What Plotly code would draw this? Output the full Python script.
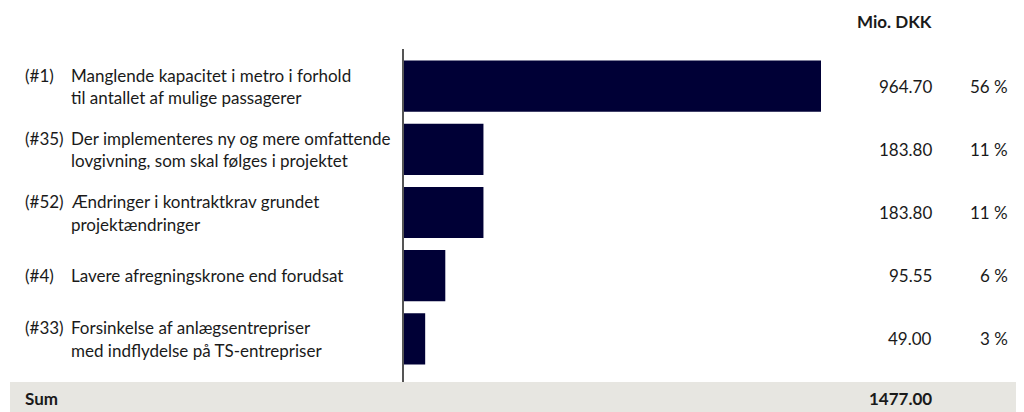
import plotly.graph_objects as go

# ---- data ----
codes = ["(#1)", "(#35)", "(#52)", "(#4)", "(#33)"]
descriptions = [
    ["Manglende kapacitet i metro i forhold", "til antallet af mulige passagerer"],
    ["Der implementeres ny og mere omfattende", "lovgivning, som skal følges i projektet"],
    ["Ændringer i kontraktkrav grundet", "projektændringer"],
    ["Lavere afregningskrone end forudsat"],
    ["Forsinkelse af anlægsentrepriser", "med indflydelse på TS-entrepriser"],
]
values = [964.70, 183.80, 183.80, 95.55, 49.00]
shares = ["56 %", "11 %", "11 %", "6 %", "3 %"]
unit_label = "Mio. DKK"
sum_label = "Sum"
sum_value = "1477.00"

# page body has an 8px margin; figure is sized so that it fills the window
OFF = 8
W, H = 1024 - OFF, 412 - OFF
FONT = "Lato"
FS = 17
TXT = "#1a1a1a"
BAR = "#000036"

def px_x(x):
    return (x - OFF) / W

def px_y(y):
    return 1 - (y - OFF) / H

ypos = list(range(len(values)))

fig = go.Figure()
fig.add_trace(go.Bar(
    x=values, y=ypos, orientation="h",
    marker=dict(color=BAR, line=dict(width=0)),
    hoverinfo="skip",
))

annotations = []
for i, (code, desc, v, s) in enumerate(zip(codes, descriptions, values, shares)):
    n = len(desc)
    shifts = [0] if n == 1 else [11, -11.5]
    annotations.append(dict(x=px_x(23), xref="paper", y=i, yref="y", yshift=shifts[0],
                            text=code, showarrow=False, xanchor="left", yanchor="middle",
                            font=dict(family=FONT, size=FS, color=TXT)))
    for line, sh in zip(desc, shifts):
        annotations.append(dict(x=px_x(69), xref="paper", y=i, yref="y", yshift=sh,
                                text=line, showarrow=False, xanchor="left", yanchor="middle",
                                font=dict(family=FONT, size=FS, color=TXT)))
    annotations.append(dict(x=px_x(934), xref="paper", y=i, yref="y",
                            text=f"{v:.2f}", showarrow=False, xanchor="right", yanchor="middle",
                            font=dict(family=FONT, size=FS, color=TXT)))
    annotations.append(dict(x=px_x(1010), xref="paper", y=i, yref="y",
                            text=s, showarrow=False, xanchor="right", yanchor="middle",
                            font=dict(family=FONT, size=FS, color=TXT)))

annotations.append(dict(x=px_x(934), xref="paper", y=px_y(21), yref="paper",
                        text=f"<b>{unit_label}</b>", showarrow=False, xanchor="right", yanchor="middle",
                        font=dict(family=FONT, size=FS, color=TXT)))
annotations.append(dict(x=px_x(23), xref="paper", y=px_y(398), yref="paper",
                        text=f"<b>{sum_label}</b>", showarrow=False, xanchor="left", yanchor="middle",
                        font=dict(family=FONT, size=FS, color=TXT)))
annotations.append(dict(x=px_x(934), xref="paper", y=px_y(398), yref="paper",
                        text=f"<b>{sum_value}</b>", showarrow=False, xanchor="right", yanchor="middle",
                        font=dict(family=FONT, size=FS, color=TXT)))

shapes = [
    dict(type="rect", xref="paper", yref="paper", x0=px_x(10), x1=1, y0=0, y1=px_y(382),
         fillcolor="#e7e6e1", line=dict(width=0), layer="below"),
    dict(type="line", xref="paper", yref="paper", x0=px_x(403), x1=px_x(403),
         y0=px_y(382), y1=px_y(49), line=dict(color="#555555", width=2)),
]

x_left, x_right = 404, 1024
x_end1 = 821
xmax = values[0] * (x_right - x_left) / (x_end1 - x_left)

fig.update_layout(
    width=W, height=H,
    margin=dict(l=0, r=0, t=0, b=0),
    paper_bgcolor="white", plot_bgcolor="rgba(0,0,0,0)",
    showlegend=False,
    bargap=0.19,
    xaxis=dict(domain=[px_x(x_left), 1], range=[0, xmax], visible=False, fixedrange=True),
    yaxis=dict(domain=[px_y(370.5), px_y(54.5)], range=[len(values) - 0.5, -0.5],
               visible=False, fixedrange=True),
    annotations=annotations,
    shapes=shapes,
)

fig.write_html("out.html")
